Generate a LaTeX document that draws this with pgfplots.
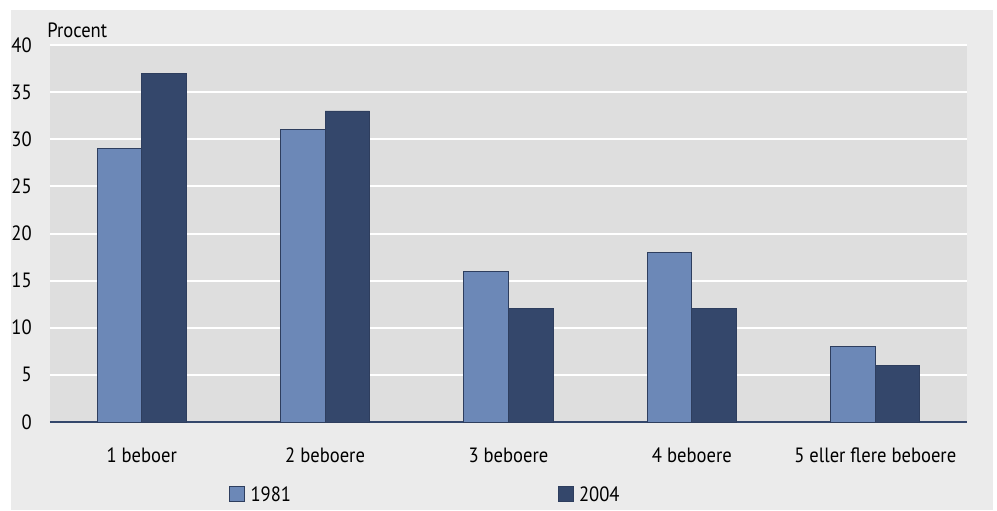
\documentclass[border=0pt]{standalone}
\usepackage{pgfplots}
\pgfplotsset{compat=1.18}
\usepackage{fontspec}
\setmainfont{PT Sans}[FakeStretch=0.9]
\definecolor{light}{HTML}{6C88B7}
\definecolor{dark}{HTML}{34476B}
\definecolor{barline}{HTML}{2E3E5E}
\definecolor{plotbg}{HTML}{DEDEDE}
\definecolor{panel}{HTML}{EBEBEB}
\begin{document}
\begin{tikzpicture}
\fontsize{15.5}{18}\selectfont
\path[use as bounding box] (-37.5pt,-66.75pt) rectangle (710.25pt,316.5pt);
\fill[panel] (-29.25pt,-66pt) rectangle (707.25pt,309pt);
\begin{axis}[
    at={(0pt,0pt)}, anchor=south west,
    scale only axis,
    width=687.75pt, height=282.75pt,
    clip=false,
    ybar=0pt,
    bar width=0.243,
    xmin=-0.5, xmax=4.5,
    ymin=0, ymax=40,
    ytick={0,5,...,40},
    xtick={0,1,2,3,4},
    xticklabels={1 beboer, 2 beboere, 3 beboere, 4 beboere, 5 eller flere beboere},
    axis background/.style={fill=plotbg},
    ymajorgrids,
    major grid style={draw=white, line width=1.5pt},
    axis x line*=bottom,
    axis y line*=left,
    y axis line style={draw=none},
    x axis line style={draw=dark, line width=1pt, -},
    major tick length=0pt,
    /pgf/number format/assume math mode=true,
    tick label style={font=\fontsize{15.5}{18}\selectfont, text=black},
    yticklabel style={inner sep=0pt, xshift=-13.5pt},
    xticklabel style={inner sep=0pt, yshift=-19pt},
    legend columns=2,
    legend style={draw=none, fill=none, inner sep=0pt,
        at={(0.1952,-0.191)}, anchor=west,
        font=\fontsize{15.5}{18}\selectfont,
        nodes={inner sep=0pt, text depth=0pt},
        /tikz/column 2/.style={column sep=200pt},
        /tikz/every odd column/.append style={column sep=4pt}},
    legend image code/.code={\draw[#1] (0pt,-5.6pt) rectangle (11.25pt,5.6pt);},
]
\addplot[fill=light, draw=barline, line width=0.7pt] coordinates {
    (0,29) (1,31) (2,16) (3,18) (4,8)
};
\addplot[fill=dark, draw=barline, line width=0.7pt] coordinates {
    (0,37) (1,33) (2,12) (3,12) (4,6)
};
\legend{1981, 2004}
\node[anchor=west, inner sep=0pt, xshift=-2.25pt, yshift=11.25pt] at (rel axis cs:0,1) {Procent};
\end{axis}
\end{tikzpicture}
\end{document}
